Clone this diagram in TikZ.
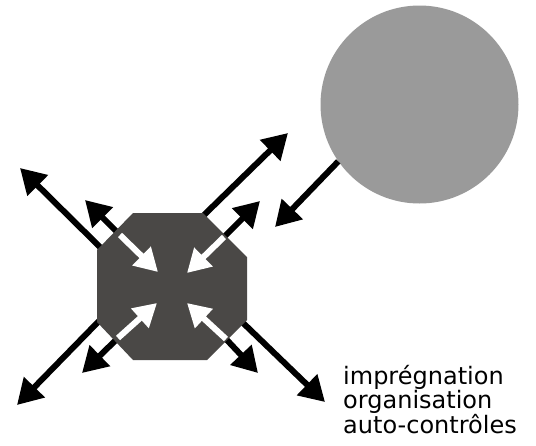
\documentclass[tikz,border=0pt]{standalone}
\usepackage{fontspec}
\setmainfont{DejaVu Sans}
\usepackage{tikz}
\usetikzlibrary{arrows.meta,positioning,calc}
\definecolor{OctaGray}{HTML}{4A4846}
\definecolor{DiscGray}{HTML}{9A9A9A}
\definecolor{InkBlack}{HTML}{000000}
\definecolor{PaperWhite}{HTML}{FFFFFF}
\tikzset{
    % Octagon core fill
    octafill/.style={
        fill=OctaGray,
        draw=none
    },
    % Grey disc
    discnode/.style={
        circle,
        fill=DiscGray,
        draw=none,
        minimum size=198pt,
        inner sep=0pt
    },
    % Label text
    labelnode/.style={
        align=left,
        inner sep=0pt,
        anchor=north west,
        font=\fontsize{24pt}{24pt}\selectfont
    },
    % Black arrow
    myarrow/.style={
        -{Triangle[length=25pt,width=28pt]},
        line width=6pt,
        draw=InkBlack
    },
    % White arrow inside the octagon
    whitearrow/.style={
        -{Triangle[length=23pt,width=25pt]},
        line width=6pt,
        draw=PaperWhite
    }
}
\begin{document}
\begin{tikzpicture}[x=1pt,y=-1pt]
    \useasboundingbox (0,0) rectangle (536,445);

    % end points of the long arrows
    \coordinate (tlA) at (104,251);   \coordinate (tlB) at (20,168);
    \coordinate (trA) at (203,216);   \coordinate (trB) at (288,133);
    \coordinate (blA) at (100,320);   \coordinate (blB) at (17,405);
    \coordinate (brA) at (240,320);   \coordinate (brB) at (325,402);
    % end points of the short arrows
    \coordinate (tlE) at (120,235);   \coordinate (tlO) at (85,200);   \coordinate (tlI) at (158,272);
    \coordinate (trE) at (224,237);   \coordinate (trO) at (260,201);  \coordinate (trI) at (187,273);
    \coordinate (blE) at (118,338);   \coordinate (blO) at (82,373);   \coordinate (blI) at (157,303);
    \coordinate (brE) at (226,339);   \coordinate (brO) at (258,373);  \coordinate (brI) at (187,303);

    \draw[myarrow] (tlA) -- (tlB);
    \draw[myarrow] (trA) -- (trB);
    \draw[myarrow] (blA) -- (blB);
    \draw[myarrow] (brA) -- (brB);

    \draw[myarrow] (tlE) -- (tlO);
    \draw[myarrow] (trE) -- (trO);
    \draw[myarrow] (blE) -- (blO);
    \draw[myarrow] (brE) -- (brO);

    % octagon core
    \fill[octafill] (97,250) -- (133,213) -- (203,213) -- (247,257)
        -- (247,320) -- (207,360) -- (133,360) -- (97,322) -- cycle;
    \coordinate (core) at (172,286.5);

    \draw[whitearrow] (tlE) -- (tlI);
    \draw[whitearrow] (trE) -- (trI);
    \draw[whitearrow] (blE) -- (blI);
    \draw[whitearrow] (brE) -- (brI);

    \node[discnode] (disc) at (419.5,104.5) {};
    \coordinate (discTip) at (275,227);
    \draw[myarrow] (disc.215) -- (discTip);

    \node[labelnode] (label) at (343,365) {imprégnation\\organisation\\auto-contrôles};
\end{tikzpicture}
\end{document}
